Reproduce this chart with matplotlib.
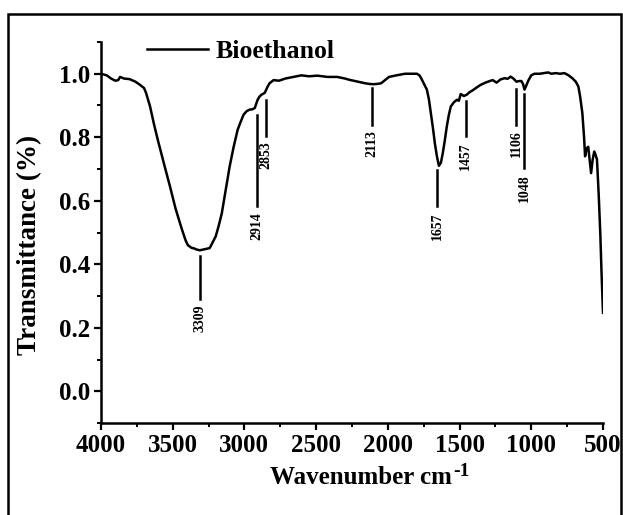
import matplotlib
matplotlib.use("Agg")
import matplotlib.pyplot as plt
from matplotlib.patches import Rectangle
from matplotlib.ticker import MultipleLocator

# FTIR spectrum of bioethanol
wavenumber = [4000, 3960, 3930, 3900, 3880, 3867, 3840, 3800, 3760, 3728, 3700, 3686,
              3658, 3630, 3603, 3560, 3519, 3480, 3436, 3410, 3394, 3370, 3353, 3330,
              3311, 3290, 3270, 3242, 3220, 3200, 3180, 3158, 3130, 3103, 3075, 3047,
              3025, 3006, 2985, 2964, 2945, 2928, 2908, 2895, 2881, 2858, 2840, 2825,
              2797, 2760, 2714, 2660, 2603, 2550, 2492, 2420, 2353, 2300, 2269, 2220,
              2158, 2130, 2103, 2075, 2047, 2020, 1992, 1940, 1881, 1840, 1797, 1780,
              1769, 1750, 1728, 1714, 1700, 1686, 1672, 1658, 1644, 1630, 1617, 1603,
              1589, 1575, 1561, 1540, 1519, 1505, 1492, 1470, 1450, 1430, 1408, 1380,
              1353, 1320, 1290, 1269, 1255, 1242, 1215, 1186, 1165, 1144, 1125, 1103,
              1085, 1069, 1058, 1047, 1035, 1019, 1000, 978, 940, 900, 881, 860, 830,
              800, 769, 740, 714, 690, 672, 660, 644, 632, 625, 614, 603, 593, 583,
              572, 561, 552, 542, 530, 519, 510, 500]
transmittance = [1.0, 0.995, 0.985, 0.978, 0.98, 0.99, 0.985, 0.983, 0.975, 0.965, 0.955, 0.94,
                 0.897, 0.84, 0.79, 0.715, 0.645, 0.575, 0.51, 0.475, 0.46, 0.452, 0.45, 0.446,
                 0.444, 0.446, 0.448, 0.451, 0.47, 0.488, 0.52, 0.56, 0.635, 0.708, 0.77, 0.824,
                 0.85, 0.871, 0.882, 0.887, 0.888, 0.892, 0.918, 0.928, 0.934, 0.94, 0.958, 0.97,
                 0.98, 0.978, 0.985, 0.99, 0.995, 0.992, 0.994, 0.99, 0.99, 0.985, 0.981, 0.976,
                 0.97, 0.968, 0.967, 0.968, 0.97, 0.98, 0.99, 0.995, 1.0, 1.0, 1.0, 0.995,
                 0.987, 0.97, 0.95, 0.92, 0.876, 0.83, 0.78, 0.74, 0.71, 0.72, 0.75, 0.79,
                 0.834, 0.87, 0.897, 0.91, 0.918, 0.915, 0.936, 0.93, 0.934, 0.942, 0.948, 0.957,
                 0.965, 0.972, 0.977, 0.98, 0.976, 0.972, 0.982, 0.986, 0.984, 0.991, 0.985, 0.975,
                 0.977, 0.977, 0.968, 0.95, 0.963, 0.98, 0.995, 1.0, 1.0, 1.003, 1.004, 1.0, 1.002,
                 1.0, 1.002, 0.995, 0.986, 0.975, 0.96, 0.93, 0.876, 0.8, 0.74, 0.765, 0.77, 0.73, 0.687,
                 0.73, 0.755, 0.745, 0.73, 0.62, 0.498, 0.37, 0.247]

series_name = "Bioethanol"

# Peak annotations: label, line top, line bottom
peak_labels = [3309, 2914, 2853, 2113, 1657, 1457, 1106, 1048]
peak_line_top = [0.425, 0.871, 0.918, 0.955, 0.698, 0.913, 0.952, 0.937]
peak_line_bottom = [0.29, 0.582, 0.805, 0.84, 0.582, 0.803, 0.84, 0.703]

x_ticks = [4000, 3500, 3000, 2500, 2000, 1500, 1000, 500]
y_ticks = [0.0, 0.2, 0.4, 0.6, 0.8, 1.0]

plt.rcParams['font.family'] = ['Liberation Serif', 'DejaVu Serif']
plt.rcParams['font.weight'] = 'bold'

fig = plt.figure(figsize=(6.23, 5.15), dpi=100)
ax = fig.add_axes([101 / 623, 1 - 423 / 515, 502 / 623, 381 / 515])

ax.plot(wavenumber, transmittance, color='black', lw=1.8, label=series_name)

for lab, top, bot in zip(peak_labels, peak_line_top, peak_line_bottom):
    ax.plot([lab, lab], [top, bot], color='black', lw=1.8)
    ax.text(lab, bot - 0.018, str(lab), rotation=90, ha='center', va='top',
            fontsize=10, fontweight='bold')

ax.set_xlim(4000, 500)
ax.set_ylim(-0.1, 1.1)
ax.set_xticks(x_ticks)
ax.set_yticks(y_ticks)
ax.set_yticklabels([f"{v:.1f}" for v in y_ticks])
ax.xaxis.set_minor_locator(MultipleLocator(250))
ax.yaxis.set_minor_locator(MultipleLocator(0.1))

for s in ['top', 'right']:
    ax.spines[s].set_visible(False)
for s in ['left', 'bottom']:
    ax.spines[s].set_linewidth(1.8)

ax.tick_params(axis='both', which='major', direction='out', length=5, width=1.6,
               labelsize=18, pad=3)
ax.tick_params(axis='both', which='minor', direction='out', length=3, width=1.4)
for t in ax.get_xticklabels() + ax.get_yticklabels():
    t.set_fontweight('bold')

ax.set_ylabel("Transmittance (%)", fontsize=19.5, fontweight='bold')
ax.yaxis.set_label_coords(-0.118, 0.468)

leg = ax.legend(loc='center left', bbox_to_anchor=(0.091, 1 - (51 - 42) / 381),
                frameon=False, handlelength=2.4, handletextpad=0.3,
                borderaxespad=0, borderpad=0,
                prop={'size': 18.5, 'weight': 'bold'})

# x-axis label with a hyphen superscript, as in the reference
xl = fig.text(0, 1 - 478 / 515, "Wavenumber cm", fontsize=18, fontweight='bold',
              ha='left', va='center')
sup = fig.text(0, 1 - 471 / 515, "-1", fontsize=14, fontweight='bold',
               ha='left', va='center')
fig.canvas.draw()
r = fig.canvas.get_renderer()
w1 = xl.get_window_extent(r).width
w2 = sup.get_window_extent(r).width
total = w1 + w2 + 1
cx = 370
xl.set_x((cx - total / 2) / 623)
sup.set_x((cx - total / 2 + w1 + 1) / 623)

fig.add_artist(Rectangle((8 / 623, -0.05), 613 / 623, 1.05 - 14 / 515,
                         transform=fig.transFigure, fill=False, lw=1.8,
                         edgecolor='black'))

fig.savefig("out.png", dpi=100)
